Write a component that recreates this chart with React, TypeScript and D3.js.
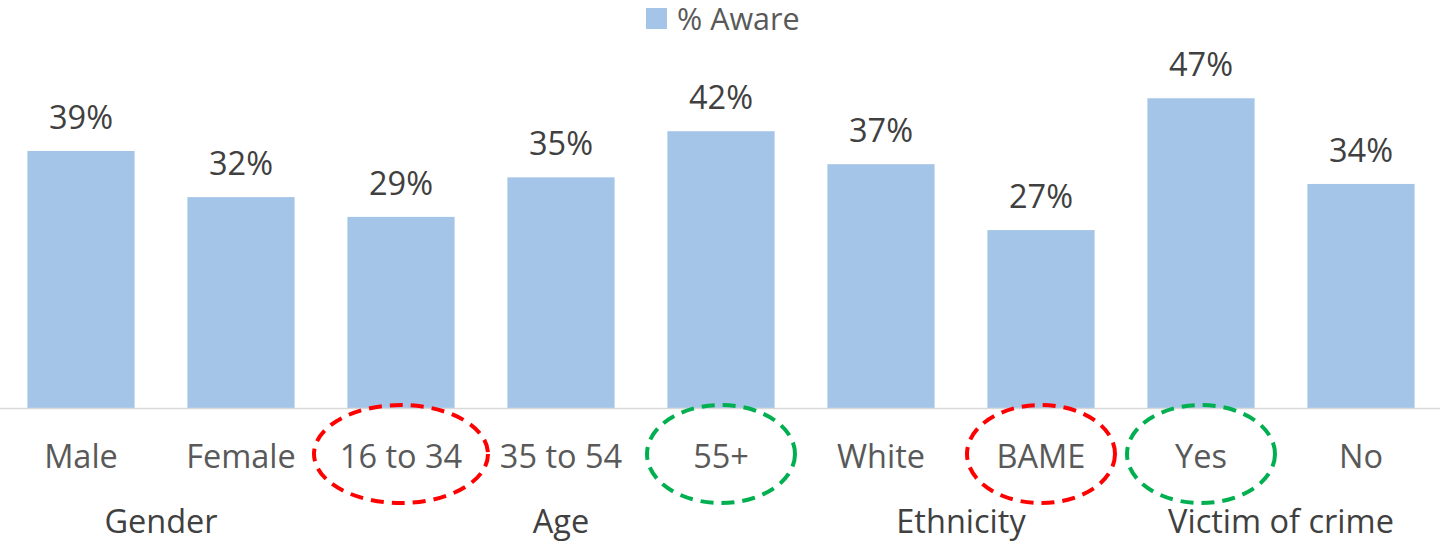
import React from "react";
import * as d3 from "d3";

const categories = ["Male", "Female", "16 to 34", "35 to 54", "55+", "White", "BAME", "Yes", "No"];
const awareValues = [39, 32, 29, 35, 42, 37, 27, 47, 34];
const groups = ["Gender", "Age", "Ethnicity", "Victim of crime"];
const groupStart = [0, 2, 5, 7];
const groupEnd = [1, 4, 6, 8];
const seriesName = "% Aware";
const highlightCats = ["16 to 34", "55+", "BAME", "Yes"];
const highlightColors = ["#FF0000", "#00B050", "#FF0000", "#00B050"];
const highlightRx = [87, 74, 74, 74];

const W = 1440;
const H = 543;
const FONT = "'Open Sans', 'Liberation Sans', sans-serif";
const FS = 32.5;

export default function App() {
  const x = d3
    .scaleBand<string>()
    .domain(categories)
    .range([1, 1441])
    .paddingInner(0.33)
    .paddingOuter(0.165);
  const y = d3.scaleLinear().domain([0, 50]).range([408, 78.5]);
  const bw = x.bandwidth();
  const center = (c: string) => (x(c) as number) + bw / 2;

  return (
    <svg
      width={W}
      height={H}
      style={{ position: "absolute", left: 0, top: 0, display: "block", background: "#fff" }}
      fontFamily={FONT}
    >
      {/* legend */}
      <rect x={646} y={8} width={21} height={21} fill="#A5C5E8" />
      <text x={677} y={30} fontSize={30.5} fill="#595959">
        {seriesName}
      </text>

      {/* bars */}
      {categories.map((c, i) => (
        <rect
          key={c}
          x={x(c)}
          y={y(awareValues[i])}
          width={bw}
          height={y(0) - y(awareValues[i])}
          fill="#A5C5E8"
        />
      ))}

      {/* value labels */}
      {categories.map((c, i) => (
        <text
          key={"v" + c}
          x={center(c)}
          y={y(awareValues[i]) - 22}
          textAnchor="middle"
          fontSize={FS}
          fill="#404040"
        >
          {awareValues[i] + "%"}
        </text>
      ))}

      {/* axis line */}
      <line x1={0} x2={W} y1={y(0) + 0.5} y2={y(0) + 0.5} stroke="#D9D9D9" strokeWidth={1.5} />

      {/* category labels */}
      {categories.map((c) => (
        <text key={"c" + c} x={center(c)} y={468} textAnchor="middle" fontSize={FS} fill="#595959">
          {c}
        </text>
      ))}

      {/* group labels */}
      {groups.map((g, i) => {
        const cx = (center(categories[groupStart[i]]) + center(categories[groupEnd[i]])) / 2;
        return (
          <text key={"g" + g} x={cx} y={533} textAnchor="middle" fontSize={FS} fill="#404040">
            {g}
          </text>
        );
      })}

      {/* highlight ellipses */}
      {highlightCats.map((c, i) => (
        <ellipse
          key={"e" + c}
          cx={center(c)}
          cy={454}
          rx={highlightRx[i]}
          ry={49}
          fill="none"
          stroke={highlightColors[i]}
          strokeWidth={4}
          strokeDasharray="13 8"
        />
      ))}
    </svg>
  );
}
